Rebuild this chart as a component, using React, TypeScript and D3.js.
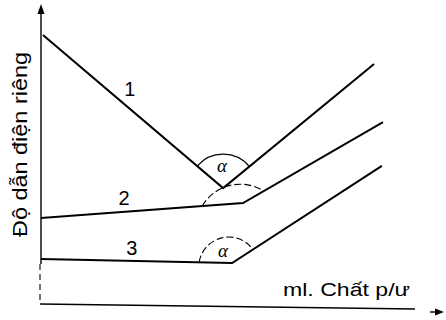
import React from 'react';
import * as d3 from 'd3';

// conductometric titration curves
const curveNames = ['1', '2', '3'];
const curve1 = [[0.05, 9.03], [4.67, 3.93], [8.54, 8.07]];
const curve2 = [[0, 2.93], [5.18, 3.43], [8.77, 6.13]];
const curve3 = [[0, 1.57], [4.9, 1.43], [8.74, 4.67]];
const yTitle = 'Độ dẫn điện riêng';
const xTitle = 'ml. Chất p/ư';

const W = 446;
const H = 320;

const x = d3.scaleLinear().domain([0, 10]).range([41, 431]);
const y = d3.scaleLinear().domain([0, 10]).range([306, 6]);

const line = d3.line<number[]>()
  .x(d => x(d[0]))
  .y(d => y(d[1]));

// point at distance dist (px) from the corner along the segment toward p
const along = (corner: number[], p: number[], dist: number) => {
  const cx = x(corner[0]), cy = y(corner[1]);
  const dx = x(p[0]) - cx, dy = y(p[1]) - cy;
  const len = Math.hypot(dx, dy);
  return [cx + dx / len * dist, cy + dy / len * dist];
};

const anglePath = (c: number[][], dl: number, dr: number, r: number) => {
  const a = along(c[1], c[0], dl);
  const b = along(c[1], c[2], dr);
  return `M${a[0]},${a[1]} A${r},${r} 0 0 1 ${b[0]},${b[1]}`;
};

const App = () => {
  const curves = [curve1, curve2, curve3];
  const labels = [
    { x: 2.28, y: 7.0 },
    { x: 2.13, y: 3.36 },
    { x: 2.33, y: 1.7 },
  ];
  const sans = '"Liberation Sans", Arial, sans-serif';
  const serif = '"Liberation Serif", "DejaVu Serif", serif';

  return (
    <svg width={W} height={H} style={{ position: 'absolute', left: 0, top: 0, background: 'white' }}>
      {/* axes */}
      <line x1={41} y1={12} x2={41} y2={264} stroke="#000" strokeWidth={1.4} />
      <line x1={40} y1={264} x2={40} y2={304} stroke="#000" strokeWidth={1.1} strokeDasharray="6 4" />
      <path d="M41,4 L37.5,14 L44.5,14 Z" fill="#000" />
      <line x1={40} y1={304} x2={415} y2={309} stroke="#000" strokeWidth={1.3} />
      <line x1={430} y1={312} x2={436} y2={312} stroke="#000" strokeWidth={1.4} />
      <path d="M444,312 L435,308.5 L435,315.5 Z" fill="#000" />

      {/* curves */}
      {curves.map((c, i) => (
        <path key={curveNames[i]} d={line(c) || ''} fill="none" stroke="#000"
          strokeWidth={2} strokeLinejoin="miter" />
      ))}

      {/* angle arcs */}
      <path d={anglePath(curve1, 34, 34, 34)} fill="none" stroke="#000" strokeWidth={1.2} />
      <path d={anglePath(curve2, 41, 24, 44)} fill="none" stroke="#000" strokeWidth={1.1} strokeDasharray="7 3" />
      <path d={anglePath(curve3, 33, 25, 30)} fill="none" stroke="#000" strokeWidth={1.1} strokeDasharray="7 3" />
      <text x={222} y={172} fontFamily={serif} fontStyle="italic" fontSize={19} textAnchor="middle" fill="#000">α</text>
      <text x={223} y={257} fontFamily={serif} fontStyle="italic" fontSize={19} textAnchor="middle" fill="#000">α</text>

      {/* curve numbers */}
      {labels.map((l, i) => (
        <text key={i} x={x(l.x)} y={y(l.y)} fontFamily={sans} fontSize={20} textAnchor="middle" fill="#000">
          {curveNames[i]}
        </text>
      ))}

      {/* axis titles */}
      <text transform="translate(27,144.5) rotate(-90)" fontFamily={sans} fontSize={21}
        textAnchor="middle" textLength={185} lengthAdjust="spacingAndGlyphs" fill="#000">{yTitle}</text>
      <text x={283} y={296} fontFamily={sans} fontSize={18} textLength={127}
        lengthAdjust="spacingAndGlyphs" fill="#000">{xTitle}</text>
    </svg>
  );
};

export default App;
